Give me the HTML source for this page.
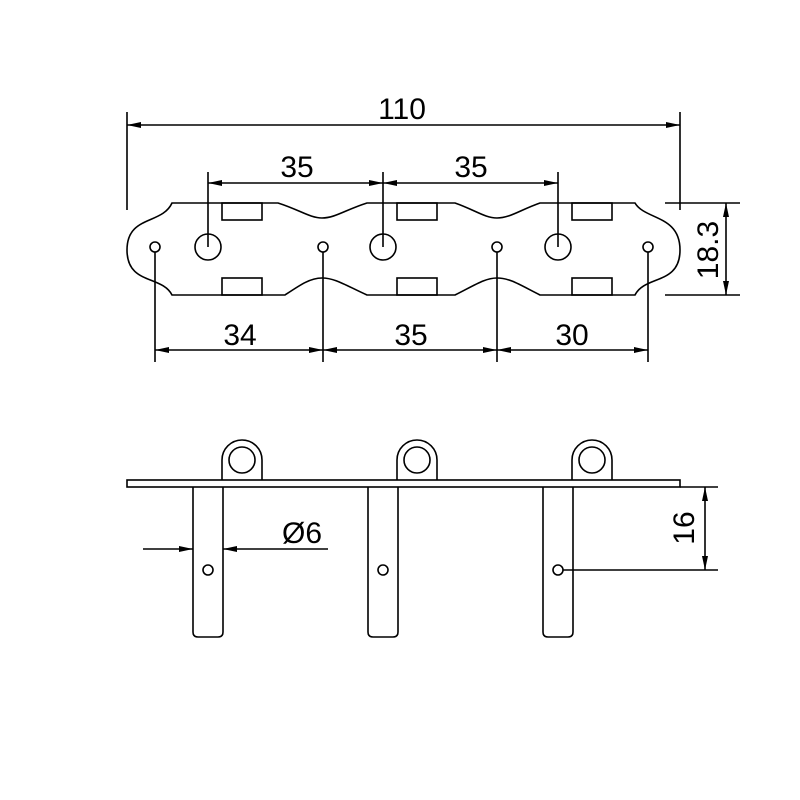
<!DOCTYPE html>
<html><head><style>body{margin:0;background:#fff}svg{display:block}</style></head><body>
<svg width="800" height="800" viewBox="0 0 800 800" xmlns="http://www.w3.org/2000/svg">
<defs>
<marker id="a" viewBox="0 0 14 6" refX="14" refY="3" markerWidth="14" markerHeight="6" markerUnits="userSpaceOnUse" orient="auto-start-reverse"><path d="M0,0L14,3L0,6z" fill="#000"/></marker>
</defs>
<g fill="none" stroke="#000" stroke-width="1.6">
<!-- top plate outline -->
<path d="M172,203 H278 C300,210 310,218 322,218 C335,218 345,210 367,203 H455 C475,210 485,218 497,218 C510,218 520,210 540,203 H635 C645,220 680,215 680,250 C680,285 645,275 635,295 H540 C520,285 510,278 497,278 C485,278 475,285 455,295 H367 C345,285 335,278 322,278 C310,278 300,285 285,295 H172 C162,275 127,285 127,250 C127,215 162,225 172,203 Z"/>
<rect x="222" y="203" width="40" height="17"/><rect x="397" y="203" width="40" height="17"/><rect x="572" y="203" width="40" height="17"/>
<rect x="222" y="278" width="40" height="17"/><rect x="397" y="278" width="40" height="17"/><rect x="572" y="278" width="40" height="17"/>
<circle cx="155" cy="247" r="5"/><circle cx="323" cy="247" r="5"/><circle cx="497" cy="247" r="5"/><circle cx="648" cy="247" r="5"/>
<circle cx="208" cy="247" r="13"/><circle cx="383" cy="247" r="13"/><circle cx="558" cy="247" r="13"/>
<!-- extension lines -->
<path d="M127,112V210 M680,112V210 M208,172V247 M383,172V247 M558,172V247 M155,252V362 M323,252V362 M497,252V362 M648,252V362 M665,203H740 M665,295H740"/>
</g>
<g stroke="#000" stroke-width="1.6" fill="none">
<line x1="127" y1="125" x2="680" y2="125" marker-start="url(#a)" marker-end="url(#a)"/>
<line x1="208" y1="183" x2="383" y2="183" marker-start="url(#a)" marker-end="url(#a)"/>
<line x1="383" y1="183" x2="558" y2="183" marker-start="url(#a)" marker-end="url(#a)"/>
<line x1="155" y1="350" x2="323" y2="350" marker-start="url(#a)" marker-end="url(#a)"/>
<line x1="323" y1="350" x2="497" y2="350" marker-start="url(#a)" marker-end="url(#a)"/>
<line x1="497" y1="350" x2="648" y2="350" marker-start="url(#a)" marker-end="url(#a)"/>
<line x1="726" y1="203" x2="726" y2="295" marker-start="url(#a)" marker-end="url(#a)"/>
</g>
<g font-family="Liberation Sans, sans-serif" font-size="30" fill="#000" text-anchor="middle">
<text x="402" y="119">110</text>
<text x="297" y="177">35</text>
<text x="471" y="177">35</text>
<text x="240" y="345">34</text>
<text x="411" y="345">35</text>
<text x="572" y="345">30</text>
<text transform="translate(718,250) rotate(-90)">18.3</text>
<text transform="translate(694,528) rotate(-90)">16</text>
<text x="302" y="543">Ø6</text>
</g>
<!-- bottom view -->
<g fill="none" stroke="#000" stroke-width="1.6">
<path d="M222,480 V460 A20,20 0 0 1 262,460 V480"/><circle cx="242" cy="460" r="13"/>
<path d="M397,480 V460 A20,20 0 0 1 437,460 V480"/><circle cx="417" cy="460" r="13"/>
<path d="M572,480 V460 A20,20 0 0 1 612,460 V480"/><circle cx="592" cy="460" r="13"/>
<rect x="127" y="480" width="553" height="7"/>
<path d="M193,487 V632 Q193,637 198,637 H218 Q223,637 223,632 V487"/>
<path d="M368,487 V632 Q368,637 373,637 H393 Q398,637 398,632 V487"/>
<path d="M543,487 V632 Q543,637 548,637 H568 Q573,637 573,632 V487"/>
<circle cx="208" cy="570" r="5"/><circle cx="383" cy="570" r="5"/><circle cx="558" cy="570" r="5"/>
<path d="M680,487H718 M563,570H718"/>
</g>
<g stroke="#000" stroke-width="1.6" fill="none">
<line x1="143" y1="549" x2="193" y2="549" marker-end="url(#a)"/>
<line x1="328" y1="549" x2="223" y2="549" marker-end="url(#a)"/>
<line x1="705" y1="487" x2="705" y2="570" marker-start="url(#a)" marker-end="url(#a)"/>
</g>
</svg>
</body></html>
